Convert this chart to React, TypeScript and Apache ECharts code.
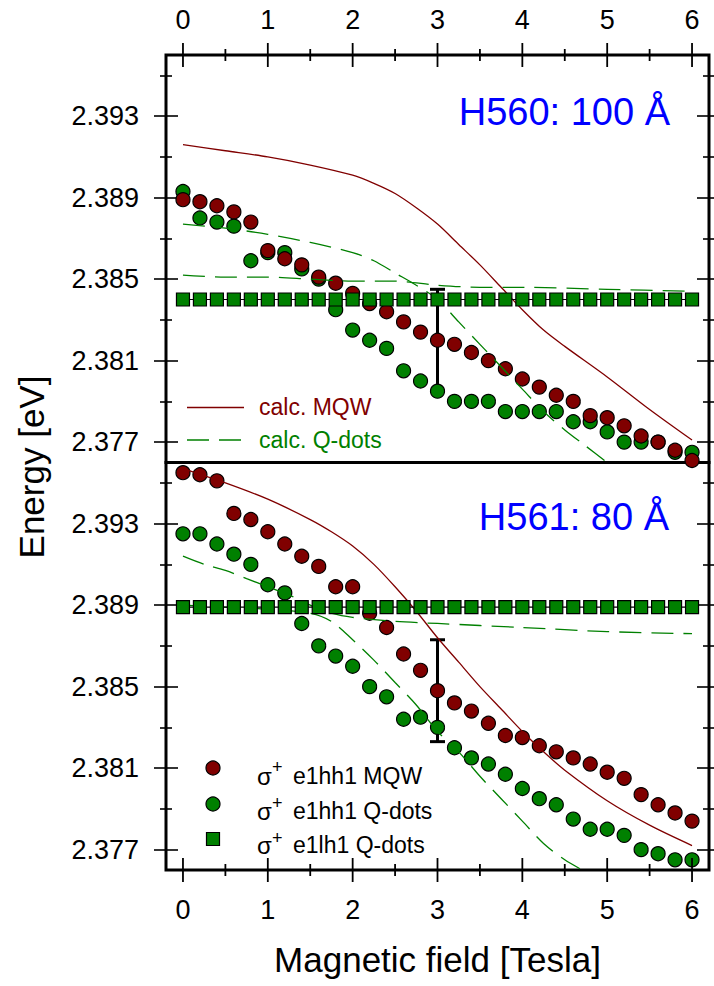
import { useEffect, useRef } from "react";
import * as echarts from "echarts";

// ---------------- data ----------------
const FIELD_T = [0.0, 0.2, 0.4, 0.6, 0.8, 1.0, 1.2, 1.4, 1.6, 1.8, 2.0, 2.2, 2.4, 2.6, 2.8, 3.0, 3.2, 3.4, 3.6, 3.8, 4.0, 4.2, 4.4, 4.6, 4.8, 5.0, 5.2, 5.4, 5.6, 5.8, 6.0];

// H560 (100 Å) panel
const H560_MQW = [2.3889, 2.3888, 2.3886, 2.3883, 2.3878, 2.3864, 2.3860, 2.3857, 2.3851, 2.3848, 2.3843, 2.3838, 2.3834, 2.3829, 2.3824, 2.3820, 2.3818, 2.3814, 2.3810, 2.3806, 2.3801, 2.3797, 2.3793, 2.3790, 2.3783, 2.3782, 2.3778, 2.3773, 2.3770, 2.3766, 2.3761];
const H560_QD_HH = [2.3893, 2.3880, 2.3878, 2.3876, 2.3859, 2.3863, 2.3863, 2.3855, 2.3850, 2.3835, 2.3825, 2.3820, 2.3816, 2.3805, 2.3800, 2.3795, 2.3790, 2.3790, 2.3790, 2.3785, 2.3785, 2.3785, 2.3785, 2.3780, 2.3780, 2.3775, 2.3770, 2.3770, 2.3770, 2.3765, 2.3765];
const H560_QD_LH = [2.3840, 2.3840, 2.3840, 2.3840, 2.3840, 2.3840, 2.3840, 2.3840, 2.3840, 2.3840, 2.3840, 2.3840, 2.3840, 2.3840, 2.3840, 2.3840, 2.3840, 2.3840, 2.3840, 2.3840, 2.3840, 2.3840, 2.3840, 2.3840, 2.3840, 2.3840, 2.3840, 2.3840, 2.3840, 2.3840, 2.3840];
const H560_CALC_MQW_X = [0, 0.5, 1.0, 1.5, 2.0, 2.25, 2.5, 2.75, 3.0, 3.25, 3.5, 3.75, 4.0, 4.25, 4.5, 5.0, 5.5, 6.0];
const H560_CALC_MQW_Y = [2.3916, 2.3913, 2.3910, 2.3906, 2.3901, 2.3897, 2.3892, 2.3885, 2.3877, 2.3867, 2.3857, 2.3846, 2.3835, 2.3825, 2.3817, 2.3802, 2.3786, 2.3771];
const H560_CALC_QD1_X = [0, 0.5, 1.0, 1.5, 2.0, 2.25, 2.5, 2.75, 3.0, 3.25, 3.5, 3.75, 4.0, 4.25, 4.5, 4.75, 5.0];
const H560_CALC_QD1_Y = [2.3877, 2.3875, 2.3872, 2.3868, 2.3863, 2.3859, 2.3853, 2.3847, 2.3840, 2.3829, 2.3818, 2.3807, 2.3796, 2.3785, 2.3776, 2.3768, 2.3760];
const H560_CALC_QD2_X = [0, 0.5, 1.0, 1.5, 2.0, 2.5, 3.0, 3.5, 4.0, 5.0, 6.0];
const H560_CALC_QD2_Y = [2.3852, 2.3851, 2.3851, 2.3850, 2.3849, 2.3849, 2.3847, 2.3846, 2.3846, 2.3845, 2.3844];
const H560_ERR = [3.0, 2.3795, 2.3845];

// H561 (80 Å) panel
const H561_MQW = [2.3955, 2.3954, 2.3951, 2.3935, 2.3932, 2.3926, 2.3920, 2.3914, 2.3909, 2.3899, 2.3899, 2.3886, 2.3879, 2.3866, 2.3858, 2.3848, 2.3842, 2.3838, 2.3832, 2.3826, 2.3825, 2.3821, 2.3818, 2.3815, 2.3812, 2.3808, 2.3805, 2.3797, 2.3792, 2.3788, 2.3784];
const H561_QD_HH = [2.3925, 2.3925, 2.3920, 2.3915, 2.3910, 2.3900, 2.3896, 2.3881, 2.3870, 2.3865, 2.3860, 2.3850, 2.3845, 2.3834, 2.3835, 2.3830, 2.3820, 2.3815, 2.3812, 2.3807, 2.3800, 2.3795, 2.3792, 2.3785, 2.3780, 2.3780, 2.3777, 2.3770, 2.3768, 2.3765, 2.3765];
const H561_QD_LH = [2.3889, 2.3889, 2.3889, 2.3889, 2.3889, 2.3889, 2.3889, 2.3889, 2.3889, 2.3889, 2.3889, 2.3889, 2.3889, 2.3889, 2.3889, 2.3889, 2.3889, 2.3889, 2.3889, 2.3889, 2.3889, 2.3889, 2.3889, 2.3889, 2.3889, 2.3889, 2.3889, 2.3889, 2.3889, 2.3889, 2.3889];
const H561_CALC_MQW_X = [0, 0.5, 1.0, 1.5, 1.75, 2.0, 2.25, 2.5, 2.75, 3.0, 3.25, 3.5, 3.75, 4.0, 4.25, 4.5, 5.0, 5.5, 6.0];
const H561_CALC_MQW_Y = [2.3957, 2.3950, 2.3942, 2.3932, 2.3926, 2.3919, 2.3910, 2.3899, 2.3887, 2.3874, 2.3862, 2.3850, 2.3839, 2.3828, 2.3818, 2.3809, 2.3794, 2.3782, 2.3772];
const H561_CALC_QD1_X = [0, 0.25, 0.5, 0.75, 1.0, 1.25, 1.5, 1.75, 2.0, 2.5, 3.0, 4.0, 5.0, 6.0];
const H561_CALC_QD1_Y = [2.3914, 2.3910, 2.3907, 2.3903, 2.3899, 2.3895, 2.3890, 2.3886, 2.3884, 2.3882, 2.3881, 2.3879, 2.3877, 2.3876];
const H561_CALC_QD2_X = [0, 0.5, 1.0, 1.5, 1.75, 2.0, 2.25, 2.5, 2.75, 3.0, 3.25, 3.5, 3.75, 4.0, 4.25, 4.5, 4.75];
const H561_CALC_QD2_Y = [2.3890, 2.3889, 2.3888, 2.3886, 2.3882, 2.3873, 2.3863, 2.3852, 2.3841, 2.3828, 2.3818, 2.3806, 2.3795, 2.3784, 2.3773, 2.3765, 2.3759];
const H561_ERR = [3.0, 2.3823, 2.3873];

// axes
const X_MIN = -0.2;
const X_MAX = 6.2;
const Y_MIN = 2.376;
const Y_MAX = 2.396;
const X_MAJOR = [0, 1, 2, 3, 4, 5, 6];
const X_MINOR = [0.5, 1.5, 2.5, 3.5, 4.5, 5.5];
const Y_MAJOR = [2.377, 2.381, 2.385, 2.389, 2.393];
const Y_MINOR = [2.379, 2.383, 2.387, 2.391, 2.395];

// --------------- styles ---------------
const FONT = "'Liberation Sans', Arial, Helvetica, sans-serif";
const RED = "#800000";
const GREEN = "#008000";
const BLUE = "#0000ff";
const TICK_FS = 27;
const TICK_LINE = { color: "#000", width: 1.6 };

const pairs = (xs: number[], ys: number[]) => xs.map((x, i) => [x, ys[i]]);

// y: crossing ticks = an outward and an inward tick axis on each side
function tickAxes(base: any, major: number[], minor: number[], label: any | null) {
  const mk = (values: number[], inside: boolean, length: number, withLabel: boolean) => ({
    ...base,
    axisLine: { show: false, onZero: false },
    splitLine: { show: false },
    axisTick: { show: true, inside, length, customValues: values, lineStyle: TICK_LINE },
    axisLabel: withLabel && label ? { show: true, customValues: values, ...label } : { show: false },
  });
  return [mk(major, false, 12, true), mk(major, true, 12, false), mk(minor, false, 6, false), mk(minor, true, 6, false)];
}

function yAxes(grid: number) {
  const base = { gridIndex: grid, type: "value", min: Y_MIN, max: Y_MAX };
  const label = { margin: 27, fontSize: TICK_FS, fontFamily: FONT, color: "#000", formatter: (v: number) => v.toFixed(3) };
  return [
    ...tickAxes({ ...base, position: "left" }, Y_MAJOR, Y_MINOR, label),
    ...tickAxes({ ...base, position: "right" }, Y_MAJOR, Y_MINOR, null),
  ];
}

function xAxis(grid: number, pos: "top" | "bottom", labelMargin: number, name?: string) {
  return {
    gridIndex: grid,
    type: "value",
    position: pos,
    min: X_MIN,
    max: X_MAX,
    axisLine: { show: false, onZero: false },
    splitLine: { show: false },
    axisTick: { show: false },
    axisLabel: { show: true, customValues: X_MAJOR, margin: labelMargin, fontSize: TICK_FS, fontFamily: FONT, color: "#000" },
    ...(name
      ? { name, nameLocation: "middle", nameGap: 72, nameTextStyle: { fontSize: 35, fontFamily: FONT, color: "#000" } }
      : {}),
  };
}

// x tick marks crossing the frame edge, placed through the x scale
function xTicks(xi: number, yi: number, edge: "top" | "bottom", values: number[], half: number) {
  return {
    type: "custom",
    name: "x ticks",
    xAxisIndex: xi,
    yAxisIndex: yi,
    silent: true,
    clip: false,
    z: 10,
    data: values.map((v) => [v, Y_MIN]),
    renderItem: (params: any, api: any) => {
      const cs = params.coordSys;
      const x = api.coord([api.value(0), api.value(1)])[0];
      const y = edge === "top" ? cs.y : cs.y + cs.height;
      return { type: "line", shape: { x1: x, y1: y - half, x2: x, y2: y + half }, style: { stroke: "#000", lineWidth: 1.8 } };
    },
  };
}

function errorBar(xi: number, yi: number, err: number[], name: string) {
  return {
    type: "custom",
    name,
    xAxisIndex: xi,
    yAxisIndex: yi,
    data: [err],
    renderItem: (_p: any, api: any) => {
      const x = api.value(0);
      const lo = api.coord([x, api.value(1)]);
      const hi = api.coord([x, api.value(2)]);
      const w = 7.5;
      const st = { stroke: "#000", lineWidth: 3 };
      return {
        type: "group",
        children: [
          { type: "line", shape: { x1: lo[0], y1: lo[1], x2: hi[0], y2: hi[1] }, style: st },
          { type: "line", shape: { x1: lo[0] - w, y1: lo[1], x2: lo[0] + w, y2: lo[1] }, style: st },
          { type: "line", shape: { x1: hi[0] - w, y1: hi[1], x2: hi[0] + w, y2: hi[1] }, style: st },
        ],
      };
    },
  };
}

function panelSeries(
  xi: number,
  yi: number,
  mqw: number[],
  qdHH: number[],
  qdLH: number[],
  cMqwX: number[],
  cMqwY: number[],
  cQ1X: number[],
  cQ1Y: number[],
  cQ2X: number[],
  cQ2Y: number[],
  err: number[]
) {
  const calc = (name: string, xs: number[], ys: number[], color: string, dashed: boolean) => ({
    type: "line",
    name,
    xAxisIndex: xi,
    yAxisIndex: yi,
    data: pairs(xs, ys),
    symbol: "none",
    smooth: 0.3,
    clip: true,
    lineStyle: { color, width: 1.3, type: dashed ? [22, 10] : "solid" },
  });
  return [
    calc("calc. MQW", cMqwX, cMqwY, RED, false),
    calc("calc. Q-dots", cQ1X, cQ1Y, GREEN, true),
    calc("calc. Q-dots", cQ2X, cQ2Y, GREEN, true),
    {
      type: "scatter",
      name: "σ+ e1hh1 Q-dots",
      xAxisIndex: xi,
      yAxisIndex: yi,
      data: pairs(FIELD_T, qdHH),
      symbol: "circle",
      symbolSize: 14,
      itemStyle: { color: GREEN, borderColor: "#000", borderWidth: 1.2, opacity: 1 },
    },
    {
      type: "line",
      name: "σ+ e1lh1 Q-dots",
      xAxisIndex: xi,
      yAxisIndex: yi,
      data: pairs(FIELD_T, qdLH),
      symbol: "rect",
      symbolSize: 13,
      showSymbol: true,
      showAllSymbol: true,
      lineStyle: { color: "#000", width: 1.2 },
      itemStyle: { color: GREEN, borderColor: "#000", borderWidth: 1.2 },
    },
    errorBar(xi, yi, err, "error"),
    {
      type: "scatter",
      name: "σ+ e1hh1 MQW",
      xAxisIndex: xi,
      yAxisIndex: yi,
      data: pairs(FIELD_T, mqw),
      symbol: "circle",
      symbolSize: 14,
      itemStyle: { color: RED, borderColor: "#000", borderWidth: 1.2, opacity: 1 },
    },
  ];
}

function legendGraphics() {
  const txt = (x: number, y: number, text: string, fill: string, fontSize: number, align = "left") => ({
    type: "text",
    x,
    y,
    z: 100,
    style: { text, fill, fontSize, fontFamily: FONT, textAlign: align, textVerticalAlign: "middle" },
  });
  const rows = [
    { sy: 768, ty: 776, label: "e1hh1 MQW", kind: "circle", color: RED },
    { sy: 804, ty: 811, label: "e1hh1 Q-dots", kind: "circle", color: GREEN },
    { sy: 839, ty: 845, label: "e1lh1 Q-dots", kind: "rect", color: GREEN },
  ];
  const els: any[] = [
    txt(670, 112, "H560: 100 Å", BLUE, 38, "right"),
    txt(669, 517, "H561: 80 Å", BLUE, 38, "right"),
    { type: "line", z: 100, shape: { x1: 187, y1: 407.5, x2: 244, y2: 407.5 }, style: { stroke: RED, lineWidth: 1.3 } },
    txt(259, 407, "calc. MQW", RED, 23),
    {
      type: "line",
      z: 100,
      shape: { x1: 187, y1: 440, x2: 241, y2: 440 },
      style: { stroke: GREEN, lineWidth: 1.3, lineDash: [22, 10] },
    },
    txt(259, 440, "calc. Q-dots", GREEN, 23),
    {
      type: "text",
      x: 31,
      y: 467,
      rotation: Math.PI / 2,
      z: 100,
      style: { text: "Energy [eV]", fill: "#000", fontSize: 35, fontFamily: FONT, textAlign: "center", textVerticalAlign: "middle" },
    },
  ];
  rows.forEach((r) => {
    if (r.kind === "circle") {
      els.push({ type: "circle", z: 100, shape: { cx: 213, cy: r.sy, r: 7 }, style: { fill: r.color, stroke: "#000", lineWidth: 1.2 } });
    } else {
      els.push({ type: "rect", z: 100, shape: { x: 206.5, y: r.sy - 6.5, width: 13, height: 13 }, style: { fill: r.color, stroke: "#000", lineWidth: 1.2 } });
    }
    els.push(txt(257, r.ty, "σ", "#000", 24));
    els.push(txt(272, r.sy - 1, "+", "#000", 18));
    els.push(txt(293, r.ty, r.label, "#000", 23));
  });
  return els;
}

export default function App() {
  const ref = useRef<HTMLDivElement>(null);
  useEffect(() => {
    if (!ref.current) return;
    const chart = echarts.init(ref.current, null, { renderer: "svg" });
    // x axes: 0 upper panel (top edge), 1 lower panel (bottom edge)
    // y axes: 0-7 upper panel, 8-15 lower panel
    const option: any = {
      animation: false,
      backgroundColor: "#fff",
      grid: [
        { left: 166, top: 55, width: 543, height: 407.5, show: true, borderColor: "#000", borderWidth: 3, backgroundColor: "transparent" },
        { left: 166, top: 462.5, width: 543, height: 407.5, show: true, borderColor: "#000", borderWidth: 3, backgroundColor: "transparent" },
      ],
      xAxis: [xAxis(0, "top", 22), xAxis(1, "bottom", 26, "Magnetic field [Tesla]")],
      yAxis: [...yAxes(0), ...yAxes(1)],
      series: [
        ...panelSeries(0, 0, H560_MQW, H560_QD_HH, H560_QD_LH, H560_CALC_MQW_X, H560_CALC_MQW_Y, H560_CALC_QD1_X, H560_CALC_QD1_Y, H560_CALC_QD2_X, H560_CALC_QD2_Y, H560_ERR),
        ...panelSeries(1, 8, H561_MQW, H561_QD_HH, H561_QD_LH, H561_CALC_MQW_X, H561_CALC_MQW_Y, H561_CALC_QD1_X, H561_CALC_QD1_Y, H561_CALC_QD2_X, H561_CALC_QD2_Y, H561_ERR),
        xTicks(0, 0, "top", X_MAJOR, 12),
        xTicks(0, 0, "top", X_MINOR, 6),
        xTicks(1, 8, "bottom", X_MAJOR, 12),
        xTicks(1, 8, "bottom", X_MINOR, 6),
      ],
      graphic: legendGraphics(),
    };
    chart.setOption(option);
    return () => chart.dispose();
  }, []);
  return <div ref={ref} style={{ position: "fixed", left: 0, top: 0, width: 714, height: 986 }} />;
}
